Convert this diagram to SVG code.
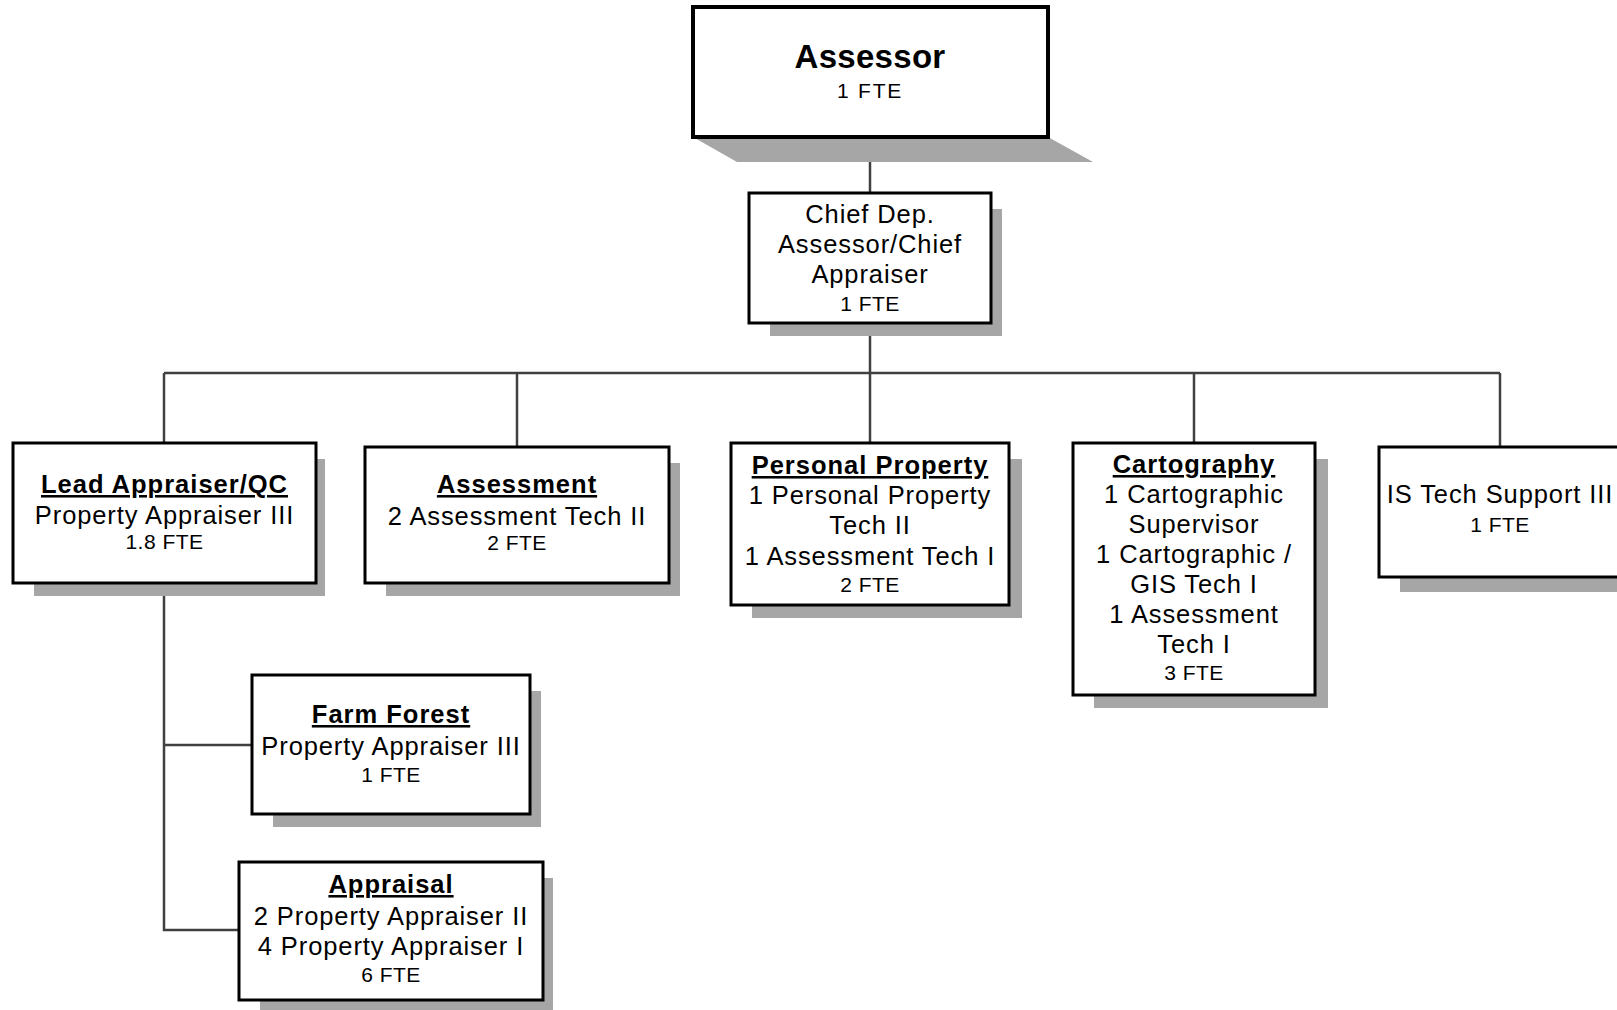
<svg xmlns="http://www.w3.org/2000/svg" width="1617" height="1010" viewBox="0 0 1617 1010">
<style>
.box{fill:#fff;stroke:#000;stroke-width:3}
.sh{fill:#a6a6a6}
.t{font-family:"Liberation Sans",Arial,sans-serif;font-size:25.5px;letter-spacing:0.9px;fill:#000;text-anchor:middle}
.h{font-weight:bold;text-decoration:underline;letter-spacing:1px}
.f{font-size:21px;letter-spacing:0.5px}
.c{fill:none;stroke:#404040;stroke-width:2.5}
</style>
<g id="connectors">
<line class="c" x1="870" y1="137" x2="870" y2="193"/>
<line class="c" x1="870" y1="323" x2="870" y2="443"/>
<line class="c" x1="164" y1="373" x2="1500" y2="373"/>
<line class="c" x1="164" y1="373" x2="164" y2="443"/>
<line class="c" x1="517" y1="373" x2="517" y2="447"/>
<line class="c" x1="1194" y1="373" x2="1194" y2="443"/>
<line class="c" x1="1500" y1="373" x2="1500" y2="447"/>
<polyline class="c" points="164,583 164,930 239,930"/>
<line class="c" x1="164" y1="745" x2="252" y2="745"/>
</g>
<g id="assessor">
<polygon class="sh" points="693,137 1048,137 1093,162 737,162"/>
<rect class="box" x="693" y="7" width="355" height="130" style="stroke-width:4"/>
<text class="t" x="870" y="68" style="font-weight:bold;font-size:33px;letter-spacing:0.3px">Assessor</text>
<text class="t f" x="870" y="98" style="font-size:21px;letter-spacing:1.8px">1 FTE</text>
</g>
<g id="chief">
<rect class="sh" x="770" y="209" width="232" height="127"/>
<rect class="box" x="749" y="193" width="242" height="130"/>
<text class="t" x="870" y="223">Chief Dep.</text>
<text class="t" x="870" y="253">Assessor/Chief</text>
<text class="t" x="870" y="283">Appraiser</text>
<text class="t f" x="870" y="311">1 FTE</text>
</g>
<g id="lead">
<rect class="sh" x="34" y="459" width="291" height="137"/>
<rect class="box" x="13" y="443" width="303" height="140"/>
<text class="t h" x="164.5" y="493">Lead Appraiser/QC</text>
<text class="t" x="164.5" y="524">Property Appraiser III</text>
<text class="t f" x="164.5" y="549">1.8 FTE</text>
</g>
<g id="assessment">
<rect class="sh" x="386" y="463" width="294" height="133"/>
<rect class="box" x="365" y="447" width="304" height="136"/>
<text class="t h" x="517" y="493">Assessment</text>
<text class="t" x="517" y="525">2 Assessment Tech II</text>
<text class="t f" x="517" y="550">2 FTE</text>
</g>
<g id="personal">
<rect class="sh" x="752" y="459" width="270" height="159"/>
<rect class="box" x="731" y="443" width="278" height="162"/>
<text class="t h" x="870" y="474">Personal Property</text>
<text class="t" x="870" y="504">1 Personal Property</text>
<text class="t" x="870" y="534">Tech II</text>
<text class="t" x="870" y="565">1 Assessment Tech I</text>
<text class="t f" x="870" y="592">2 FTE</text>
</g>
<g id="cartography">
<rect class="sh" x="1094" y="459" width="234" height="249"/>
<rect class="box" x="1073" y="443" width="242" height="252"/>
<text class="t h" x="1194" y="473">Cartography</text>
<text class="t" x="1194" y="503">1 Cartographic</text>
<text class="t" x="1194" y="533">Supervisor</text>
<text class="t" x="1194" y="563">1 Cartographic /</text>
<text class="t" x="1194" y="593">GIS Tech I</text>
<text class="t" x="1194" y="623">1 Assessment</text>
<text class="t" x="1194" y="653">Tech I</text>
<text class="t f" x="1194" y="680">3 FTE</text>
</g>
<g id="istech">
<rect class="sh" x="1400" y="463" width="234" height="129"/>
<rect class="box" x="1379" y="447" width="242" height="130"/>
<text class="t" x="1500" y="503">IS Tech Support III</text>
<text class="t f" x="1500" y="532">1 FTE</text>
</g>
<g id="farm">
<rect class="sh" x="273" y="691" width="268" height="136"/>
<rect class="box" x="252" y="675" width="278" height="139"/>
<text class="t h" x="391" y="723">Farm Forest</text>
<text class="t" x="391" y="755">Property Appraiser III</text>
<text class="t f" x="391" y="782">1 FTE</text>
</g>
<g id="appraisal">
<rect class="sh" x="260" y="878" width="293" height="135"/>
<rect class="box" x="239" y="862" width="304" height="138"/>
<text class="t h" x="391" y="893">Appraisal</text>
<text class="t" x="391" y="925">2 Property Appraiser II</text>
<text class="t" x="391" y="955">4 Property Appraiser I</text>
<text class="t f" x="391" y="982">6 FTE</text>
</g>
</svg>
